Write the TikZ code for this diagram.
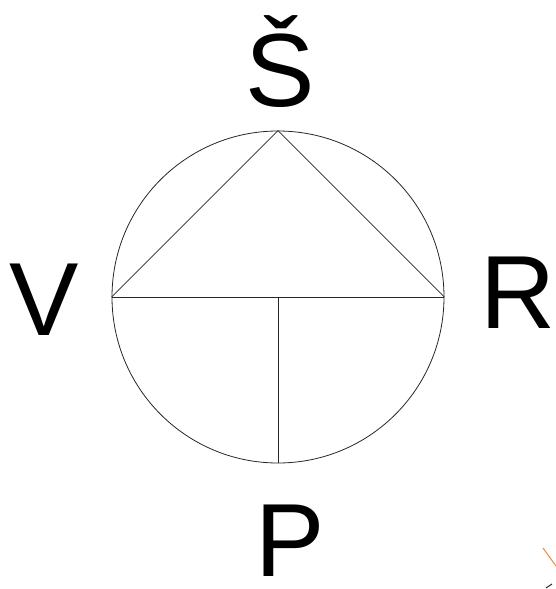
\documentclass[tikz,border=0pt]{standalone}
\usepackage{fontspec}
\setmainfont{Liberation Sans}
\usepackage{xcolor}
\usepackage{tikz}
\usetikzlibrary{positioning}
\definecolor{mznacka}{RGB}{232, 142, 60}

\begin{document}
\begin{tikzpicture}[x=1pt, y=-1pt,
  every node/.style={font=\fontsize{104}{104}\selectfont, inner sep=0pt, anchor=base},
  ciara/.style={line width=0.8pt, color=black!85}]
\useasboundingbox (0,0) rectangle (556,589);
% Kruh
\node[circle, draw, ciara, minimum size=332pt, anchor=center] (kruh) at (278,297) {};
% Úsečky vo vnútri kruhu
\draw[ciara] (kruh.north) -- (kruh.west);
\draw[ciara] (kruh.north) -- (kruh.east);
\draw[ciara] (kruh.west) -- (kruh.east);
\draw[ciara] (kruh.center) -- (kruh.south);
% Popisy svetových strán
\node (s) at (280,106) {Š};
\node (v) at (44,335)  {V};
\node (r) at (518,328) {R};
\node (p) at (290,576) {P};
% Značka v rohu
\draw[line width=1pt, color=mznacka] (543,548) -- (556,566);
\draw[line width=1pt, color=black!80] (546,588) -- (552,584);
\end{tikzpicture}
\end{document}
